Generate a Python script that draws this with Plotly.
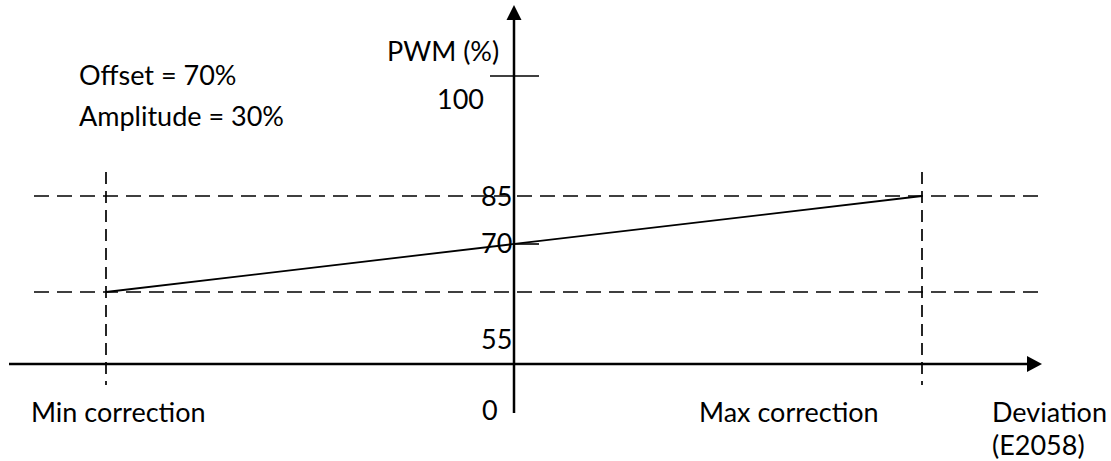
import plotly.graph_objects as go

W, H = 1111, 461

# ---- data (schematic PWM correction curve) ----
deviation = [-1, 1]                 # Min correction .. Max correction (normalized)
pwm_values = [55, 85]               # PWM (%) at min / max correction
pwm_offset = 70                     # Offset (%)
level_values = [85, 70, 55]
level_labels = ["85", "70", "55"]
info_texts = ["Offset = 70%", "Amplitude = 30%"]
x_labels = ["Min correction", "0", "Max correction"]

# ---- layout helpers (pixel -> axis units) ----
X0_PX, X_SCALE = 514, 408.0     # px of deviation 0, px per unit
Y70_PX, Y_SCALE = 244, 3.2      # px of PWM 70, px per %


def xpx(px):
    return (px - X0_PX) / X_SCALE


def ypx(py):
    return pwm_offset - (py - Y70_PX) / Y_SCALE


FONT = dict(family="Lato, Carlito, Calibri, sans-serif", size=27, color="black")

fig = go.Figure()

# main solid line
fig.add_trace(go.Scatter(x=deviation, y=pwm_values, mode="lines",
                         line=dict(color="black", width=1.8),
                         hoverinfo="skip", showlegend=False))

shapes = []
axis_y = ypx(364)
# horizontal axis + arrowhead
shapes.append(dict(type="line", xref="x", yref="y", x0=xpx(9), x1=xpx(1029),
                   y0=axis_y, y1=axis_y, line=dict(color="black", width=2.5)))
shapes.append(dict(type="path", xref="x", yref="y", xsizemode="pixel", ysizemode="pixel",
                   xanchor=xpx(1042), yanchor=axis_y,
                   path="M 0 0 L -15 8 L -15 -8 Z", fillcolor="black",
                   line=dict(color="black", width=0)))
# vertical axis + arrowhead
shapes.append(dict(type="line", xref="x", yref="y", x0=0, x1=0,
                   y0=ypx(413), y1=ypx(18), line=dict(color="black", width=2.5)))
shapes.append(dict(type="path", xref="x", yref="y", xsizemode="pixel", ysizemode="pixel",
                   xanchor=0, yanchor=ypx(5),
                   path="M 0 0 L -7.5 -15 L 7.5 -15 Z", fillcolor="black",
                   line=dict(color="black", width=0)))
# tick marks at 100 and 70
shapes.append(dict(type="line", xref="x", yref="y", x0=xpx(490), x1=xpx(539),
                   y0=ypx(76), y1=ypx(76), line=dict(color="black", width=1.6)))
shapes.append(dict(type="line", xref="x", yref="y", x0=0, x1=xpx(539),
                   y0=pwm_offset, y1=pwm_offset, line=dict(color="black", width=1.6)))
# dashed guide lines
for v in pwm_values:
    shapes.append(dict(type="line", xref="x", yref="y", x0=xpx(34), x1=xpx(1040),
                       y0=v, y1=v, line=dict(color="black", width=1.7, dash="15px,8px")))
for d in deviation:
    shapes.append(dict(type="line", xref="x", yref="y", x0=d, x1=d,
                       y0=ypx(172), y1=ypx(385), line=dict(color="black", width=1.7, dash="12px,7px")))

ann = []


def txt(text, px, py, xanchor="center"):
    ann.append(dict(text=text, x=xpx(px), y=ypx(py), xref="x", yref="y",
                    showarrow=False, xanchor=xanchor, yanchor="middle", font=FONT))


txt("PWM (%)", 501, 50, "right")
txt("100", 460, 98)
txt(level_labels[0], 514, 195, "right")
txt(level_labels[1], 514, 242, "right")
txt(level_labels[2], 514, 338, "right")
txt(x_labels[1], 490, 409)
txt(x_labels[0], 118, 411)
txt(x_labels[2], 789, 411)
txt("Deviation", 990, 411, "left")
txt("(E2058)", 990, 444, "left")
txt(info_texts[0], 77, 74, "left")
txt(info_texts[1], 77, 115, "left")

fig.update_layout(
    width=W, height=H,
    margin=dict(l=0, r=0, t=0, b=0),
    paper_bgcolor="white", plot_bgcolor="white",
    xaxis=dict(range=[xpx(0), xpx(W)], visible=False, fixedrange=True),
    yaxis=dict(range=[ypx(H), ypx(0)], visible=False, fixedrange=True),
    shapes=shapes, annotations=ann, showlegend=False,
)

fig.write_html("out.html", config={"displayModeBar": False},
               post_script="document.body.style.margin='0';document.body.style.overflow='hidden';")
